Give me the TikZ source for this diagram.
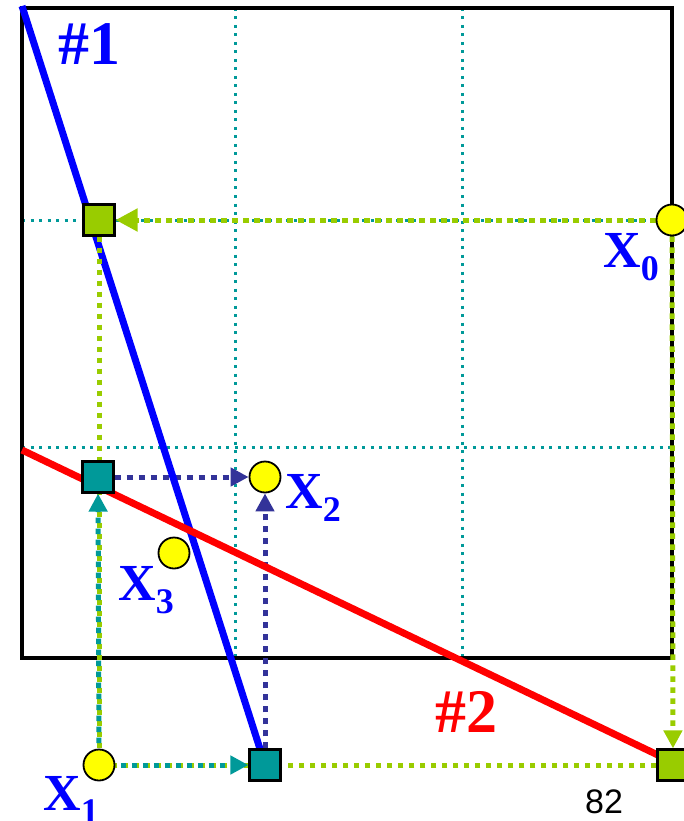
\documentclass[tikz,border=0pt]{standalone}
\usepackage{fontspec}
\setmainfont{Liberation Serif}
\newfontfamily\arialf{Liberation Sans}
\usetikzlibrary{arrows.meta}
\definecolor{tealc}{RGB}{0,153,153}
\definecolor{greenc}{RGB}{153,204,0}
\definecolor{navyc}{RGB}{51,51,153}
\definecolor{bluec}{RGB}{0,0,255}
\definecolor{redc}{RGB}{255,0,0}
\definecolor{yel}{RGB}{255,255,0}
\pgfdeclarelayer{lbg}
\pgfdeclarelayer{lnavy}
\pgfdeclarelayer{llines}
\pgfdeclarelayer{lgreen}
\pgfdeclarelayer{lteal}
\pgfsetlayers{lbg,lnavy,llines,lgreen,lteal,main}
\newcommand\lsub[1]{\raisebox{-13pt}{\fontsize{36}{36}\selectfont #1}}
\begin{document}
\begin{tikzpicture}[x=1pt,y=-1pt,
 ptc/.style={circle,draw=black,line width=1.8pt,fill=yel,minimum size=31pt,inner sep=0pt},
 gsq/.style={rectangle,draw=black,line width=2.2pt,fill=greenc,minimum size=31pt,inner sep=0pt},
 tsq/.style={gsq,fill=tealc},
 gridln/.style={tealc,line width=3pt,dash pattern=on 3pt off 5.5pt},
 garrow/.style={greenc,line width=5pt,dash pattern=on 5.5pt off 5.5pt},
 tarrow/.style={tealc,line width=5pt,dash pattern=on 5.5pt off 5.5pt,dash phase=5.5pt},
 narrow/.style={navyc,line width=5pt,dash pattern=on 6pt off 6pt},
 tipa/.style={-{Triangle[length=18pt,width=18pt]}},
 tipg/.style={-{Triangle[length=22pt,width=22pt]}},
 lbl/.style={bluec,font=\fontsize{52}{52}\selectfont\bfseries,inner sep=0pt,anchor=base west},
 big/.style={font=\fontsize{62}{62}\selectfont\bfseries,inner sep=0pt,anchor=base west}
]
\useasboundingbox (0,0) rectangle (684,821);
\clip (0,0) rectangle (684,821);

% points and squares
\node[ptc] (x0) at (672,220) {};
\node[ptc] (x1) at (99,765) {};
\node[ptc] (x2) at (265,477) {};
\node[ptc] (x3) at (174,553) {};
\node[gsq] (g1) at (99,220) {};
\node[gsq] (g2) at (673,765) {};
\node[tsq] (t1) at (98,477) {};
\node[tsq] (t2) at (265,765) {};

% labels
\node[big,bluec] (l1) at (58,65) {\#1};
\node[big,redc] (l2) at (435,732) {\#2};
\node[lbl] (lx0) at (603,267) {X\lsub{0}};
\node[lbl] (lx2) at (285,508) {X\lsub{2}};
\node[lbl] (lx3) at (118,600) {X\lsub{3}};
\node[lbl] (lx1) at (43,810) {X\lsub{1}};
\node[font=\arialf\fontsize{34}{34}\selectfont,anchor=base west,inner sep=0pt] (pg) at (585,813) {82};

% frame and grid
\coordinate (bl) at (22,8);
\coordinate (br) at (672,658);
\begin{pgfonlayer}{lbg}
\draw[gridln] (235,8) -- (235,658);
\draw[gridln] (462,8) -- (462,658);
\draw[gridln] (22,220) -- (672,220);
\draw[gridln] (22,447) -- (672,447);
\draw[black,line width=3.5pt] (bl) rectangle (br);
\end{pgfonlayer}

% constraint lines
\coordinate (a1) at (22,6);
\coordinate (b1) at (261,752);
\coordinate (a2) at (22,450);
\coordinate (b2) at (662,757);
\begin{pgfonlayer}{llines}
\draw[bluec,line width=7pt] (a1) -- (b1);
\draw[redc,line width=7pt] (a2) -- (b2);
\end{pgfonlayer}

% navy arrows
\begin{pgfonlayer}{lnavy}
\draw[narrow,tipa] (t1) -- (x2);
\draw[narrow,tipa] (t2) -- (x2);
\end{pgfonlayer}

% green arrows
\begin{pgfonlayer}{lgreen}
\draw[garrow,tipg] (x0) -- (g1);
\draw[garrow,tipa] (x0) -- (g2);
\draw[garrow] (g1) -- (x1);
\draw[garrow] (g2) -- (x1);
\end{pgfonlayer}

% teal arrows
\begin{pgfonlayer}{lteal}
\draw[tarrow,tipa] (x1) -- (t1);
\draw[tarrow,tipa] (x1) -- (t2);
\end{pgfonlayer}
\end{tikzpicture}
\end{document}
